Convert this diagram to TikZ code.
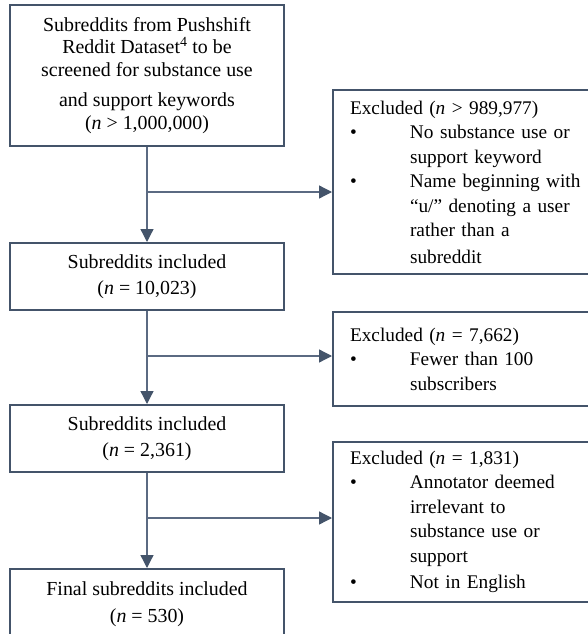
\documentclass[tikz,border=0pt]{standalone}
\usepackage{fontspec}
\setmainfont{Liberation Serif}
\usetikzlibrary{arrows.meta}
\definecolor{slate}{HTML}{44546A}
\definecolor{slateline}{HTML}{5B6A82}
\tikzstyle{stage}=[draw=slate, line width=2pt, minimum width=274pt, align=center, font=\fontsize{19.9}{26.5}\selectfont]
\tikzstyle{excl}=[draw=slate, line width=2pt, anchor=west, inner xsep=17pt, inner ysep=3pt, text width=244pt, align=left, font=\fontsize{19.3}{24.5}\selectfont]
\tikzstyle{flow}=[slateline, line width=1.3pt, -{Triangle[length=13pt,width=13pt,color=slate]}]
\newcommand{\xbul}{\makebox[60pt][l]{\textbullet}}
\newcommand{\xind}{\hspace*{60pt}}

\begin{document}
\begin{tikzpicture}[x=1pt, y=-1pt]
\useasboundingbox (0,0) rectangle (588,634);
\clip (0,0) rectangle (588,634);
\node[stage, minimum height=141pt, font=\fontsize{19.9}{22.5}\selectfont] at (147, 75.5) (pool) {Subreddits from Pushshift\\ Reddit Dataset\textsuperscript{4} to be\\ screened for substance use\\[8pt] and support keywords\\ (\textit{n} > 1,000,000)};
\node[stage, minimum height=67pt] at (147, 276.5) (incl1) {Subreddits included\\ (\textit{n} = 10,023)};
\node[stage, minimum height=67pt] at (147, 438.5) (incl2) {Subreddits included\\ (\textit{n} = 2,361)};
\node[stage, minimum height=70pt] at (147, 604) (final) {Final subreddits included\\ (\textit{n} = 530)};

\node[excl, minimum height=184pt] at (332, 182) (ex1) {Excluded (\textit{n} > 989,977)\\ \xbul No substance use or\\ \xind support keyword\\ \xbul Name beginning with\\ \xind “u/” denoting a user\\ \xind rather than a\\[2pt] \xind subreddit};
\node[excl, minimum height=94pt] at (332, 359) (ex2) {Excluded (\textit{n} = 7,662)\\ \xbul Fewer than 100\\ \xind subscribers};
\node[excl, minimum height=160pt] at (332, 522) (ex3) {Excluded (\textit{n} = 1,831)\\ \xbul Annotator deemed\\ \xind irrelevant to\\ \xind substance use or\\ \xind support\\[2pt] \xbul Not in English};

\coordinate (b1) at (147, 192);
\coordinate (b2) at (147, 356);
\coordinate (b3) at (147, 518);
\draw[flow] (pool) -- (incl1);
\draw[flow] (incl1) -- (incl2);
\draw[flow] (incl2) -- (final);
\draw[flow] (b1) -- (b1 -| ex1.west);
\draw[flow] (b2) -- (b2 -| ex2.west);
\draw[flow] (b3) -- (b3 -| ex3.west);
\end{tikzpicture}
\end{document}
